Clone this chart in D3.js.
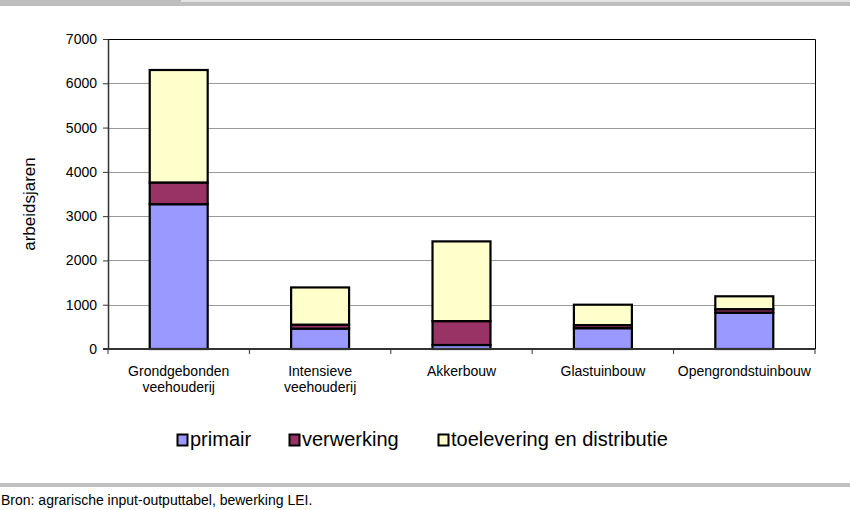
<!DOCTYPE html>
<html><head><meta charset="utf-8">
<script src="https://cdn.jsdelivr.net/npm/d3@7"></script>
<style>
body{margin:0;background:#fff;}
text{font-family:"Liberation Sans",sans-serif;fill:#000;}
</style></head>
<body><svg id="c" width="850" height="510"></svg>
<script>
const categories = [["Grondgebonden","veehouderij"],["Intensieve","veehouderij"],["Akkerbouw"],["Glastuinbouw"],["Opengrondstuinbouw"]];
const seriesNames = ["primair","verwerking","toelevering en distributie"];
const primair = [3270, 460, 90, 470, 820];
const verwerking = [490, 90, 540, 70, 80];
const toelevering = [2540, 840, 1800, 460, 290];
const colors = ["#9999ff","#993366","#ffffcc"];
const yTicks = [0,1000,2000,3000,4000,5000,6000,7000];

const svg = d3.select("#c");
// header bar
svg.append("rect").attr("x",0).attr("y",0).attr("width",850).attr("height",6).attr("fill","#bebebe");
svg.append("rect").attr("x",181).attr("y",0).attr("width",669).attr("height",2).attr("fill","#e3e3e3");
// footer
svg.append("rect").attr("x",0).attr("y",483).attr("width",850).attr("height",4).attr("fill","#c0c0c0");
svg.append("text").attr("x",1).attr("y",505).attr("font-size",14).text("Bron: agrarische input-outputtabel, bewerking LEI.");

const L=108, R=815, T=39, B=349;
const x = d3.scaleBand().domain(d3.range(categories.length)).range([L,R]).paddingInner(0.59).paddingOuter(0.295);
const y = d3.scaleLinear().domain([0,7000]).range([B,T]);

// gridlines
svg.append("g").selectAll("line").data(yTicks.filter(d=>d>0 && d<7000)).join("line")
  .attr("x1",L).attr("x2",R).attr("y1",d=>Math.round(y(d))+0.5).attr("y2",d=>Math.round(y(d))+0.5)
  .attr("stroke","#9a9a9a").attr("stroke-width",1);
// plot frame top/right
svg.append("path").attr("d",`M${L},${T+0.5}H${R+0.5}V${B}`).attr("fill","none").attr("stroke","#000").attr("stroke-width",1);

// stacked data
const rows = categories.map((c,i)=>({i, primair:primair[i], verwerking:verwerking[i], toelevering:toelevering[i]}));
const stack = d3.stack().keys(["primair","verwerking","toelevering"])(rows);
svg.append("g").selectAll("g").data(stack).join("g").attr("fill",(d,k)=>colors[k])
  .selectAll("rect").data(d=>d).join("rect")
  .attr("x",d=>x(d.data.i)).attr("width",x.bandwidth())
  .attr("y",d=>y(d[1])).attr("height",d=>y(d[0])-y(d[1]))
  .attr("stroke","#000").attr("stroke-width",2.2);

// y axis
const ya = svg.append("g").attr("transform",`translate(${L},0)`)
  .call(d3.axisLeft(y).tickValues(yTicks).tickFormat(d3.format("d")).tickSize(5).tickSizeOuter(0).tickPadding(6));
ya.select(".domain").attr("stroke","#333").attr("stroke-width",1.5);
ya.selectAll(".tick line").attr("stroke","#333");
ya.selectAll("text").attr("font-size",14).style("font-family",'"Liberation Sans",sans-serif').attr("fill","#000");

// x axis
const xa = svg.append("g").attr("transform",`translate(0,${B})`);
xa.append("line").attr("x1",L-5).attr("x2",R).attr("y1",0).attr("y2",0).attr("stroke","#333").attr("stroke-width",2);
const bounds = d3.range(categories.length+1).map(i=>L+i*(R-L)/categories.length);
xa.selectAll("line.t").data(bounds).join("line").attr("class","t")
  .attr("x1",d=>d).attr("x2",d=>d).attr("y1",0).attr("y2",5).attr("stroke","#333");
xa.selectAll("text.c").data(categories).join("text").attr("class","c")
  .attr("text-anchor","middle").attr("font-size",14)
  .attr("transform",(d,i)=>`translate(${x(i)+x.bandwidth()/2},27)`)
  .each(function(d){
    const t=d3.select(this);
    d.forEach((s,j)=>t.append("tspan").attr("x",0).attr("dy",j?16:0).text(s));
  });

// y label
svg.append("text").attr("transform","translate(35,204) rotate(-90)").attr("text-anchor","middle")
  .attr("font-size",17).text("arbeidsjaren");

// legend
const legX=[177,289,438];
const lg = svg.append("g").selectAll("g").data(seriesNames).join("g")
  .attr("transform",(d,i)=>`translate(${legX[i]},434)`);
lg.append("rect").attr("x",0.5).attr("y",0.5).attr("width",10).attr("height",11)
  .attr("fill",(d,i)=>colors[i]).attr("stroke","#000").attr("stroke-width",2);
lg.append("text").attr("x",13).attr("y",12).attr("font-size",20).text(d=>d);
</script></body></html>
